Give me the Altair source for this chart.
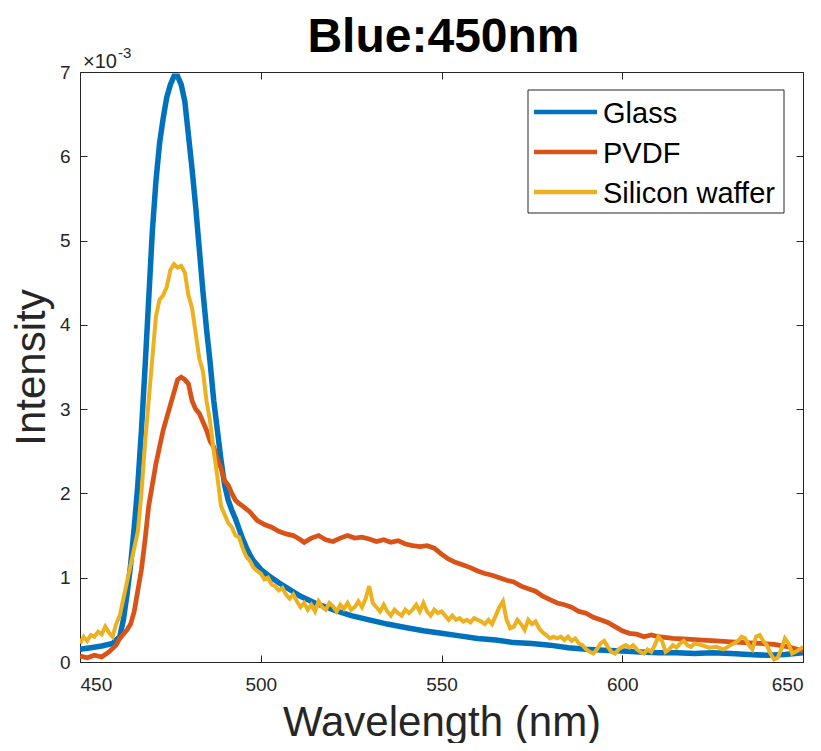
import altair as alt
import pandas as pd

# ---------------- data (intensity in units of 1e-3) ----------------
series_names = ["Glass", "PVDF", "Silicon waffer"]
series_colors = ["#0072BD", "#D95319", "#EDB120"]
line_widths = [5.5, 4, 4.5]

glass_wl = [450, 453, 456, 459, 461, 462, 463, 464, 465, 466, 467, 468, 469, 470, 471, 472, 473,
            474, 475, 476, 477, 478, 479, 480, 481, 482, 483, 484, 485, 486, 487, 488, 489, 490,
            491, 492, 493, 494, 495, 496, 497, 498, 500, 502, 505, 508, 511, 515, 520, 525, 530,
            535, 540, 545, 550, 555, 560, 565, 570, 575, 580, 585, 590, 595, 600, 605, 610, 615,
            620, 625, 630, 635, 640, 645, 650]
glass_val = [0.15, 0.17, 0.19, 0.22, 0.30, 0.50, 0.80, 1.15, 1.60, 2.10, 2.75, 3.50, 4.30, 5.10,
             5.70, 6.15, 6.45, 6.70, 6.85, 6.95, 6.95, 6.85, 6.65, 6.25, 5.85, 5.40, 4.90, 4.40,
             3.95, 3.55, 3.10, 2.75, 2.40, 2.10, 1.92, 1.80, 1.70, 1.58, 1.46, 1.36, 1.27, 1.20,
             1.10, 1.03, 0.94, 0.86, 0.78, 0.70, 0.62, 0.55, 0.50, 0.45, 0.41, 0.37, 0.34, 0.31,
             0.28, 0.26, 0.23, 0.22, 0.20, 0.17, 0.15, 0.14, 0.13, 0.12, 0.11, 0.11, 0.10, 0.11,
             0.10, 0.09, 0.08, 0.09, 0.11]

pvdf_wl = [450, 452, 454, 456, 458, 460, 461, 462, 463, 464, 465, 466, 467, 468, 469, 470, 471,
           472, 473, 474, 475, 476, 477, 478, 479, 480, 481, 482, 483, 484, 485, 486, 487, 488,
           489, 490, 491, 492, 493, 494, 495, 497, 499, 501, 503, 505, 507, 509, 511, 512, 514,
           516, 518, 520, 522, 524, 526, 528, 530, 532, 534, 536, 538, 540, 542, 544, 546, 548,
           550, 552, 554, 556, 558, 560, 562, 564, 566, 568, 570, 572, 574, 576, 578, 580, 582,
           584, 586, 588, 590, 592, 594, 596, 598, 600, 602, 604, 606, 608, 610, 614, 618, 622,
           626, 630, 634, 638, 642, 646, 650]
pvdf_val = [0.07, 0.05, 0.08, 0.06, 0.12, 0.20, 0.28, 0.33, 0.38, 0.45, 0.60, 0.85, 1.10, 1.45,
            1.85, 2.10, 2.35, 2.55, 2.75, 2.90, 3.05, 3.20, 3.35, 3.38, 3.35, 3.30, 3.10, 3.00,
            2.95, 2.85, 2.75, 2.62, 2.55, 2.40, 2.30, 2.15, 2.10, 2.00, 1.92, 1.88, 1.85, 1.78,
            1.68, 1.63, 1.60, 1.55, 1.52, 1.50, 1.45, 1.42, 1.47, 1.50, 1.45, 1.43, 1.47, 1.50,
            1.47, 1.48, 1.46, 1.43, 1.45, 1.42, 1.44, 1.40, 1.38, 1.37, 1.38, 1.35, 1.28, 1.22,
            1.18, 1.15, 1.12, 1.08, 1.05, 1.03, 1.00, 0.97, 0.95, 0.90, 0.87, 0.84, 0.78, 0.74,
            0.70, 0.68, 0.65, 0.60, 0.58, 0.53, 0.50, 0.47, 0.42, 0.37, 0.34, 0.33, 0.30, 0.32,
            0.30, 0.28, 0.27, 0.26, 0.25, 0.24, 0.23, 0.22, 0.21, 0.18, 0.13]

si_wl = list(range(450, 620)) + [620, 622, 624, 626, 628, 630, 632, 633, 634, 635, 636, 637,
                                  638, 639, 640, 641, 642, 643, 644, 645, 646, 647, 648, 649, 650]
si_val = [0.22, 0.30, 0.25, 0.32, 0.30, 0.36, 0.33, 0.42, 0.35, 0.30,   # 450-459
          0.45, 0.55, 0.75, 0.95, 1.15, 1.35, 1.55, 2.00, 2.60, 3.10,   # 460-469
          3.60, 4.10, 4.30, 4.35, 4.45, 4.65, 4.72, 4.68, 4.70, 4.62,   # 470-479
          4.35, 4.20, 3.90, 3.60, 3.45, 3.10, 2.85, 2.50, 2.20, 1.85,   # 480-489
          1.75, 1.65, 1.60, 1.50, 1.48, 1.35, 1.25, 1.20, 1.12, 1.08,   # 490-499
          1.05, 0.98, 1.00, 0.92, 0.90, 0.85, 0.88, 0.80, 0.75, 0.80,   # 500-509
          0.72, 0.65, 0.70, 0.62, 0.68, 0.60, 0.72, 0.65, 0.62, 0.70,   # 510-519
          0.66, 0.60, 0.68, 0.63, 0.70, 0.62, 0.65, 0.72, 0.65, 0.75,   # 520-529
          0.90, 0.70, 0.65, 0.60, 0.68, 0.60, 0.55, 0.62, 0.58, 0.55,   # 530-539
          0.62, 0.58, 0.62, 0.68, 0.60, 0.70, 0.60, 0.55, 0.62, 0.58,   # 540-549
          0.60, 0.55, 0.50, 0.55, 0.50, 0.52, 0.48, 0.50, 0.47, 0.52,   # 550-559
          0.50, 0.48, 0.45, 0.50, 0.45, 0.55, 0.65, 0.72, 0.50, 0.40,   # 560-569
          0.42, 0.50, 0.45, 0.38, 0.50, 0.45, 0.48, 0.40, 0.35, 0.32,   # 570-579
          0.28, 0.30, 0.28, 0.30, 0.26, 0.30, 0.25, 0.28, 0.22, 0.20,   # 580-589
          0.15, 0.12, 0.10, 0.15, 0.22, 0.25, 0.18, 0.12, 0.10, 0.15,   # 590-599
          0.18, 0.20, 0.17, 0.20, 0.15, 0.12, 0.10, 0.15, 0.12, 0.20,   # 600-609
          0.30, 0.25, 0.12, 0.15, 0.20, 0.17, 0.22, 0.25, 0.20, 0.18,   # 610-619
          0.22, 0.20, 0.17, 0.18, 0.15, 0.20, 0.25, 0.30, 0.28, 0.20,   # 620-635
          0.15, 0.30, 0.32, 0.25, 0.20, 0.10, 0.03, 0.05, 0.15, 0.28,   # 636-645
          0.22, 0.10, 0.12, 0.15, 0.18]                                  # 646-650

x_ticks = [450, 500, 550, 600, 650]
y_ticks = [0, 1, 2, 3, 4, 5, 6, 7]
title_text = "Blue:450nm"
exponent_base = "×10"
exponent_power = "-3"

rows = []
for name, wl, vals in [("Glass", glass_wl, glass_val), ("PVDF", pvdf_wl, pvdf_val),
                       ("Silicon waffer", si_wl, si_val)]:
    for w, v in zip(wl, vals):
        rows.append({"series": name, "wavelength": w, "intensity": v})
df = pd.DataFrame(rows)

# ---------------- chart ----------------
FONT = "Liberation Sans"
AX = "#262626"
W, H = 723, 590

x_scale = alt.Scale(domain=[450, 650], nice=False, zero=False)
y_scale = alt.Scale(domain=[0, 7], nice=False)

common_axis = dict(grid=False, domain=False, tickSize=7, tickColor=AX, tickWidth=1,
                   labelFont=FONT, labelFontSize=19, labelColor=AX,
                   titleFont=FONT, titleFontSize=42, titleColor=AX, titleFontWeight="normal")

lines = alt.Chart(df).mark_line(clip=True).encode(
    x=alt.X("wavelength:Q", scale=x_scale,
            axis=alt.Axis(title="Wavelength (nm)", values=x_ticks, orient="bottom", offset=-7,
                          labelPadding=13, titleBaseline="alphabetic", titleY=80,
                          titleX=W / 2, **common_axis)),
    y=alt.Y("intensity:Q", scale=y_scale,
            axis=alt.Axis(title="Intensity", values=y_ticks, orient="left", offset=-7,
                          labelPadding=10, titleBaseline="alphabetic", titleX=-43,
                          titleY=H / 2, titleAngle=270, **common_axis)),
    color=alt.Color("series:N", scale=alt.Scale(domain=series_names, range=series_colors),
                    legend=None),
    strokeWidth=alt.StrokeWidth("series:N",
                                scale=alt.Scale(domain=series_names, range=line_widths),
                                legend=None),
)

frame = alt.Chart(df).mark_point(opacity=0).encode(
    x=alt.X("wavelength:Q", scale=x_scale,
            axis=alt.Axis(title=None, values=x_ticks, orient="top", offset=-7, labels=False,
                          **common_axis)),
    y=alt.Y("intensity:Q", scale=y_scale,
            axis=alt.Axis(title=None, values=y_ticks, orient="right", offset=-7, labels=False,
                          **common_axis)),
)

text_df = pd.DataFrame({"t": [title_text, exponent_base, exponent_power]})

title_mark = alt.Chart(text_df).transform_filter(alt.datum.t == title_text).mark_text(
    font=FONT, fontSize=48, fontWeight="bold", color="black", align="center",
    baseline="alphabetic"
).encode(x=alt.value(W / 2 + 2), y=alt.value(-20), text="t:N")

exp_base = alt.Chart(text_df).transform_filter(alt.datum.t == exponent_base).mark_text(
    font=FONT, fontSize=20, color=AX, align="left", baseline="alphabetic"
).encode(x=alt.value(3), y=alt.value(-4), text="t:N")

exp_pow = alt.Chart(text_df).transform_filter(alt.datum.t == exponent_power).mark_text(
    font=FONT, fontSize=15, color=AX, align="left", baseline="alphabetic"
).encode(x=alt.value(38), y=alt.value(-14), text="t:N")

# legend box (inside the plot, top-right)
leg_box = alt.Chart(text_df).transform_filter(alt.datum.t == title_text).mark_rect(
    fill="white", stroke=AX, strokeWidth=1
).encode(x=alt.value(448), x2=alt.value(704), y=alt.value(18), y2=alt.value(141))

legend_layers = [leg_box]
leg_df = pd.DataFrame({"series": series_names})
for i, (name, col, lw) in enumerate(zip(series_names, series_colors, line_widths)):
    cy = 40 + i * 40
    legend_layers.append(
        alt.Chart(leg_df).transform_filter(alt.datum.series == name).mark_rule(
            color=col, strokeWidth=4.5
        ).encode(x=alt.value(454), x2=alt.value(517), y=alt.value(cy))
    )
    legend_layers.append(
        alt.Chart(leg_df).transform_filter(alt.datum.series == name).mark_text(
            font=FONT, fontSize=29, color="black", align="left", baseline="alphabetic"
        ).encode(x=alt.value(523), y=alt.value(cy + 10.5), text="series:N")
    )

chart = alt.layer(lines, frame, title_mark, exp_base, exp_pow, *legend_layers).resolve_axis(
    x="independent", y="independent"
).properties(
    width=W, height=H,
    autosize=alt.AutoSizeParams(type="none"),
    padding={"left": 72, "top": 64, "right": 10, "bottom": 81},
).configure_view(stroke=AX, strokeWidth=1)

chart.save("out.html", embed_options={"renderer": "svg", "actions": False})
